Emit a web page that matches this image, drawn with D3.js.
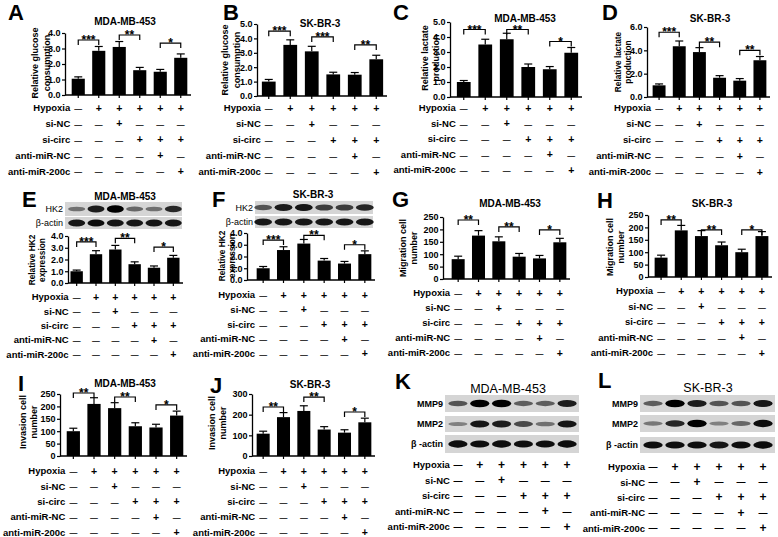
<!DOCTYPE html>
<html>
<head>
<meta charset="utf-8">
<script src="https://cdn.jsdelivr.net/npm/d3@7"></script>
<style>
  body { margin: 0; background: #fff; }
  svg { display: block; }
</style>
</head>
<body>
<svg id="fig" width="778" height="537"></svg>
<script>
const FONT = "'Liberation Sans', Arial, sans-serif";

// six treatment groups, shared by every panel
const groups = ["g1", "g2", "g3", "g4", "g5", "g6"];
const rowLabels = ["Hypoxia", "si-NC", "si-circ", "anti-miR-NC", "anti-miR-200c"];
const hypoxiaSigns = ["\u2014", "+", "+", "+", "+", "+"];
const siNCSigns = ["\u2014", "\u2014", "+", "\u2014", "\u2014", "\u2014"];
const siCircSigns = ["\u2014", "\u2014", "\u2014", "+", "+", "+"];
const antiNCSigns = ["\u2014", "\u2014", "\u2014", "\u2014", "+", "\u2014"];
const anti200cSigns = ["\u2014", "\u2014", "\u2014", "\u2014", "\u2014", "+"];
const signRows = [hypoxiaSigns, siNCSigns, siCircSigns, antiNCSigns, anti200cSigns];

// tick labels
const ticks4 = [0, 1, 2, 3, 4];
const ticks5 = [0, 1, 2, 3, 4, 5];
const ticks6 = [0, 2, 4, 6];
const ticks250 = [0, 50, 100, 150, 200, 250];
const ticks300 = [0, 100, 200, 300];

// bar values (mean) and upper error
const glucoseMDA = [1.05, 2.85, 3.1, 1.6, 1.5, 2.4];
const glucoseMDAErr = [0.12, 0.28, 0.35, 0.18, 0.15, 0.25];
const glucoseSK = [1.0, 3.55, 3.1, 1.5, 1.48, 2.55];
const glucoseSKErr = [0.15, 0.35, 0.35, 0.15, 0.15, 0.28];
const lactateMDA = [1.0, 3.5, 3.85, 2.0, 1.85, 2.95];
const lactateMDAErr = [0.1, 0.35, 0.4, 0.2, 0.18, 0.35];
const lactateSK = [1.0, 4.35, 3.85, 1.65, 1.4, 3.15];
const lactateSKErr = [0.12, 0.45, 0.38, 0.18, 0.18, 0.32];
const hk2MDA = [1.0, 2.45, 2.85, 1.6, 1.3, 2.15];
const hk2MDAErr = [0.1, 0.3, 0.35, 0.2, 0.15, 0.2];
const hk2SK = [1.0, 2.55, 3.1, 1.65, 1.4, 2.2];
const hk2SKErr = [0.15, 0.28, 0.35, 0.18, 0.18, 0.28];
const migrationMDA = [80, 175, 152, 90, 83, 148];
const migrationMDAErr = [12, 20, 18, 13, 12, 16];
const migrationSK = [78, 188, 165, 128, 100, 165];
const migrationSKErr = [10, 20, 22, 13, 12, 18];
const invasionMDA = [100, 210, 193, 120, 115, 163];
const invasionMDAErr = [12, 25, 22, 14, 13, 18];
const invasionSK = [108, 188, 218, 128, 113, 163];
const invasionSKErr = [12, 22, 25, 14, 14, 20];

// significance brackets: compared pairs, star labels, bracket heights (data units)
const sigPairs = [[0, 1], [2, 3], [4, 5]];
const starsA = ["***", "**", "*"], bracketA = [3.55, 3.87, 3.35];
const starsB = ["***", "***", "**"], bracketB = [4.5, 4.1, 3.55];
const starsC = ["***", "**", "*"], bracketC = [4.5, 4.5, 3.7];
const starsD = ["***", "**", "**"], bracketD = [5.55, 4.7, 4.0];
const starsE = ["***", "**", "*"], bracketE = [3.5, 3.8, 3.06];
const starsF = ["***", "**", "*"], bracketF = [3.4, 3.8, 3.0];
const starsG = ["**", "**", "*"], bracketG = [238, 210, 198];
const starsH = ["**", "**", "*"], bracketH = [230, 190, 190];
const starsI = ["**", "**", "*"], bracketI = [254, 238, 206];
const starsJ = ["**", "**", "*"], bracketJ = [237, 285, 213];

// western blot band intensities (0..1)
const hk2MDABands = [0.45, 0.85, 1.0, 0.5, 0.45, 0.8];
const actinEBands = [0.9, 0.92, 0.9, 0.88, 0.9, 0.9];
const hk2SKBands = [0.6, 0.85, 0.9, 0.7, 0.7, 0.8];
const actinFBands = [0.88, 0.9, 0.9, 0.9, 0.88, 0.9];
const mmp9MDABands = [0.6, 1.0, 1.0, 0.55, 0.55, 0.85];
const mmp2MDABands = [0.35, 0.9, 0.85, 0.65, 0.45, 0.9];
const actinKBands = [0.95, 0.92, 0.95, 0.92, 0.92, 0.95];
const mmp9SKBands = [0.55, 1.0, 0.85, 0.6, 0.6, 0.9];
const mmp2SKBands = [0.4, 0.8, 1.0, 0.35, 0.5, 0.95];
const actinLBands = [0.92, 0.92, 0.92, 0.9, 0.92, 0.95];

const svg = d3.select("#fig").attr("font-family", FONT);
svg.append("rect").attr("width", 778).attr("height", 537).attr("fill", "#fff");
svg.append("defs").append("filter").attr("id", "blur")
    .attr("x", "-20%").attr("y", "-50%").attr("width", "140%").attr("height", "200%")
    .append("feGaussianBlur").attr("stdDeviation", 0.7);

function bandX(xr) {
    return d3.scaleBand().domain(groups).range(xr).paddingInner(0.36).paddingOuter(0.18);
}

function drawHeader(g, p) {
    g.append("text")
        .attr("x", p.lx).attr("y", p.ly)
        .attr("font-size", 22).attr("font-weight", "bold")
        .text(p.letter);
    g.append("text")
        .attr("x", p.tx).attr("y", p.ty + (p.tfs || 10) * 0.36)
        .attr("text-anchor", "middle")
        .attr("font-size", p.tfs || 10)
        .attr("font-weight", p.tweight || "bold")
        .text(p.title);
}

function drawRows(g, x, p) {
    const bw = x.bandwidth();
    const labelX = x(groups[0]) + bw / 2 - 8;
    rowLabels.forEach((lab, i) => {
        const yy = p.rowY + i * p.rowStep;
        g.append("text")
            .attr("x", labelX).attr("y", yy + 3.3)
            .attr("text-anchor", "end")
            .attr("font-size", 9.5).attr("font-weight", "bold")
            .text(lab);
        g.selectAll(null).data(signRows[i]).join("text")
            .attr("x", (d, j) => x(groups[j]) + bw / 2)
            .attr("y", d => d === "+" ? yy + 3.6 : yy + 3.1)
            .attr("text-anchor", "middle")
            .attr("font-size", d => d === "+" ? (p.sfs || 10.5) : (p.sfs || 10.5) * 0.75)
            .attr("font-weight", "bold")
            .text(d => d);
    });
}

function drawBlot(g, x, p) {
    const step = x.step();
    p.strips.forEach(s => {
        g.append("rect")
            .attr("x", p.sx[0]).attr("width", p.sx[1] - p.sx[0])
            .attr("y", s.y0).attr("height", s.y1 - s.y0)
            .attr("fill", "#d5d5d5");
        const cy = (s.y0 + s.y1) / 2;
        g.selectAll(null).data(s.bands).join("ellipse")
            .attr("cx", (d, j) => x(groups[j]) + x.bandwidth() / 2)
            .attr("cy", cy)
            .attr("rx", step * 0.44)
            .attr("ry", d => 1.2 + 2.6 * d)
            .attr("fill", d => d3.interpolateGreys(0.35 + 0.65 * d))
            .attr("filter", "url(#blur)");
        g.append("text")
            .attr("x", p.sx[0] - 2).attr("y", cy + 3.2)
            .attr("text-anchor", "end")
            .attr("font-size", p.lfs || 9)
            .attr("font-weight", p.lweight || "normal")
            .text(s.label);
    });
}

function drawBarPanel(p) {
    const g = svg.append("g");
    drawHeader(g, p);
    const x = bandX(p.xr);
    const bw = x.bandwidth();
    const y = d3.scaleLinear().domain([0, p.ticks[p.ticks.length - 1]]).range([p.yBot, p.yTop]);

    // y axis
    const ya = g.append("g").attr("transform", `translate(${p.ox},0)`)
        .call(d3.axisLeft(y).tickValues(p.ticks).tickSize(3).tickSizeOuter(0).tickPadding(1.5));
    ya.attr("font-family", FONT).attr("font-size", 9).attr("font-weight", "bold");
    ya.select(".domain").attr("stroke-width", 1.3);
    ya.selectAll(".tick line").attr("stroke-width", 1.2);

    // x axis
    const xa = g.append("g").attr("transform", `translate(0,${p.yBot})`)
        .call(d3.axisBottom(x).tickSize(3).tickSizeOuter(0).tickFormat(""));
    xa.select(".domain").remove();
    xa.selectAll(".tick line").attr("stroke-width", 1.2);
    g.append("line")
        .attr("x1", p.ox).attr("x2", p.xr[1])
        .attr("y1", p.yBot).attr("y2", p.yBot)
        .attr("stroke", "#000").attr("stroke-width", 1.3);

    // bars
    g.selectAll("rect.bar").data(p.values).join("rect")
        .attr("class", "bar")
        .attr("x", (d, i) => x(groups[i]))
        .attr("width", bw)
        .attr("y", d => y(d))
        .attr("height", d => y(0) - y(d))
        .attr("fill", "#000");

    // error bars (upper only)
    const eb = g.selectAll("g.err").data(p.values).join("g").attr("class", "err");
    eb.append("line")
        .attr("x1", (d, i) => x(groups[i]) + bw / 2)
        .attr("x2", (d, i) => x(groups[i]) + bw / 2)
        .attr("y1", d => y(d))
        .attr("y2", (d, i) => y(d + p.errors[i]))
        .attr("stroke", "#000").attr("stroke-width", 1.2);
    eb.append("line")
        .attr("x1", (d, i) => x(groups[i]) + bw / 2 - 4)
        .attr("x2", (d, i) => x(groups[i]) + bw / 2 + 4)
        .attr("y1", (d, i) => y(d + p.errors[i]))
        .attr("y2", (d, i) => y(d + p.errors[i]))
        .attr("stroke", "#000").attr("stroke-width", 1.2);

    // significance brackets
    sigPairs.forEach((pr, k) => {
        const x1 = x(groups[pr[0]]) + bw / 2;
        const x2 = x(groups[pr[1]]) + bw / 2;
        const yy = y(p.brackets[k]);
        g.append("path")
            .attr("d", `M${x1},${yy + 5}V${yy}H${x2}V${yy + 5}`)
            .attr("fill", "none").attr("stroke", "#000").attr("stroke-width", 1.2);
        g.append("text")
            .attr("x", (x1 + x2) / 2).attr("y", yy + 4)
            .attr("text-anchor", "middle")
            .attr("font-size", 12).attr("font-weight", "bold")
            .text(p.stars[k]);
    });

    // y label (two lines)
    p.ylab.forEach((line, k) => {
        g.append("text")
            .attr("transform", `translate(${p.ylx[k]},${p.yly}) rotate(-90)`)
            .attr("dy", "0.35em")
            .attr("text-anchor", "middle")
            .attr("font-size", p.ylfs || 9).attr("font-weight", "bold")
            .text(line);
    });

    if (p.strips) drawBlot(g, x, p);
    drawRows(g, x, p);
}

function drawBlotPanel(p) {
    const g = svg.append("g");
    drawHeader(g, p);
    const x = bandX(p.xr);
    drawBlot(g, x, p);
    drawRows(g, x, p);
}

const barPanels = [
    { letter: "A", lx: 8, ly: 20, title: "MDA-MB-453", tx: 125, ty: 21,
      values: glucoseMDA, errors: glucoseMDAErr, stars: starsA, brackets: bracketA, ticks: ticks4,
      ox: 65, xr: [68, 191], yTop: 33, yBot: 95,
      ylab: ["Relative glucose", "consumption"], ylx: [35, 47], yly: 63, rowY: 108, rowStep: 15.8 },
    { letter: "B", lx: 223, ly: 20, title: "SK-BR-3", tx: 320, ty: 23,
      values: glucoseSK, errors: glucoseSKErr, stars: starsB, brackets: bracketB, ticks: ticks5,
      ox: 257, xr: [258, 387], yTop: 24, yBot: 96,
      ylab: ["Relative glucose", "consumption"], ylx: [225, 237], yly: 60, rowY: 108, rowStep: 16 },
    { letter: "C", lx: 393, ly: 20, title: "MDA-MB-453", tx: 525, ty: 18,
      values: lactateMDA, errors: lactateMDAErr, stars: starsC, brackets: bracketC, ticks: ticks5,
      ox: 450, xr: [453, 582], yTop: 22, yBot: 97,
      ylab: ["Relative lactate", "production"], ylx: [425, 436], yly: 58, rowY: 108, rowStep: 15.5 },
    { letter: "D", lx: 602, ly: 20, title: "SK-BR-3", tx: 710, ty: 18,
      values: lactateSK, errors: lactateSKErr, stars: starsD, brackets: bracketD, ticks: ticks6,
      ox: 647, xr: [649, 770], yTop: 27, yBot: 97,
      ylab: ["Relative lactate", "production"], ylx: [618, 628], yly: 62, ylfs: 8.3, rowY: 108, rowStep: 16 },
    { letter: "E", lx: 22, ly: 207, title: "MDA-MB-453", tx: 125, ty: 196,
      values: hk2MDA, errors: hk2MDAErr, stars: starsE, brackets: bracketE, ticks: ticks4,
      ox: 68, xr: [67, 183], yTop: 236, yBot: 283,
      ylab: ["Relative HK2", "expression"], ylx: [32, 42], yly: 260, ylfs: 8.3, rowY: 297, rowStep: 14.3,
      sx: [65, 182], strips: [
          { label: "HK2", y0: 202, y1: 216, bands: hk2MDABands },
          { label: "\u03b2-actin", y0: 217, y1: 229, bands: actinEBands }] },
    { letter: "F", lx: 212, ly: 207, title: "SK-BR-3", tx: 313, ty: 194,
      values: hk2SK, errors: hk2SKErr, stars: starsF, brackets: bracketF, ticks: ticks4,
      ox: 247, xr: [253, 375], yTop: 233, yBot: 280,
      ylab: ["Relative HK2", "expression"], ylx: [222, 232], yly: 256, ylfs: 8.3, rowY: 295, rowStep: 14.7,
      sx: [255, 373], strips: [
          { label: "HK2", y0: 201, y1: 214, bands: hk2SKBands },
          { label: "\u03b2-actin", y0: 216, y1: 228, bands: actinFBands }] },
    { letter: "G", lx: 392, ly: 207, title: "MDA-MB-453", tx: 510, ty: 203,
      values: migrationMDA, errors: migrationMDAErr, stars: starsG, brackets: bracketG, ticks: ticks250,
      ox: 443, xr: [448, 570], yTop: 217, yBot: 279,
      ylab: ["Migration cell", "number"], ylx: [403, 414], yly: 248, rowY: 293, rowStep: 15 },
    { letter: "H", lx: 597, ly: 208, title: "SK-BR-3", tx: 712, ty: 203,
      values: migrationSK, errors: migrationSKErr, stars: starsH, brackets: bracketH, ticks: ticks250,
      ox: 648, xr: [651, 772], yTop: 215, yBot: 277,
      ylab: ["Migration cell", "number"], ylx: [610, 621], yly: 247, rowY: 291, rowStep: 15.5 },
    { letter: "I", lx: 18, ly: 391, title: "MDA-MB-453", tx: 125, ty: 383,
      values: invasionMDA, errors: invasionMDAErr, stars: starsI, brackets: bracketI, ticks: ticks250,
      ox: 60, xr: [63, 187], yTop: 394, yBot: 456,
      ylab: ["Invasion cell", "number"], ylx: [23, 34], yly: 422, rowY: 471, rowStep: 15.3 },
    { letter: "J", lx: 210, ly: 393, title: "SK-BR-3", tx: 310, ty: 384,
      values: invasionSK, errors: invasionSKErr, stars: starsJ, brackets: bracketJ, ticks: ticks300,
      ox: 252, xr: [253, 375], yTop: 394, yBot: 456,
      ylab: ["Invasion cell", "number"], ylx: [212, 223], yly: 423, rowY: 471, rowStep: 15.3 }
];

const blotPanels = [
    { letter: "K", lx: 395, ly: 389, title: "MDA-MB-453", tx: 508, ty: 388, tfs: 12.5, tweight: "normal",
      xr: [447, 578], rowY: 465, rowStep: 15.5, sfs: 12, lfs: 9, lweight: "bold",
      sx: [445, 579], strips: [
          { label: "MMP9", y0: 395, y1: 412, bands: mmp9MDABands },
          { label: "MMP2", y0: 416, y1: 432, bands: mmp2MDABands },
          { label: "\u03b2 -actin", y0: 435, y1: 453, bands: actinKBands }] },
    { letter: "L", lx: 598, ly: 388, title: "SK-BR-3", tx: 708, ty: 387, tfs: 12.5, tweight: "normal",
      xr: [642, 774], rowY: 467, rowStep: 15.3, sfs: 12, lfs: 9, lweight: "bold",
      sx: [640, 775], strips: [
          { label: "MMP9", y0: 395, y1: 412, bands: mmp9SKBands },
          { label: "MMP2", y0: 415, y1: 432, bands: mmp2SKBands },
          { label: "\u03b2 -actin", y0: 437, y1: 453, bands: actinLBands }] }
];

barPanels.forEach(drawBarPanel);
blotPanels.forEach(drawBlotPanel);
</script>
</body>
</html>
